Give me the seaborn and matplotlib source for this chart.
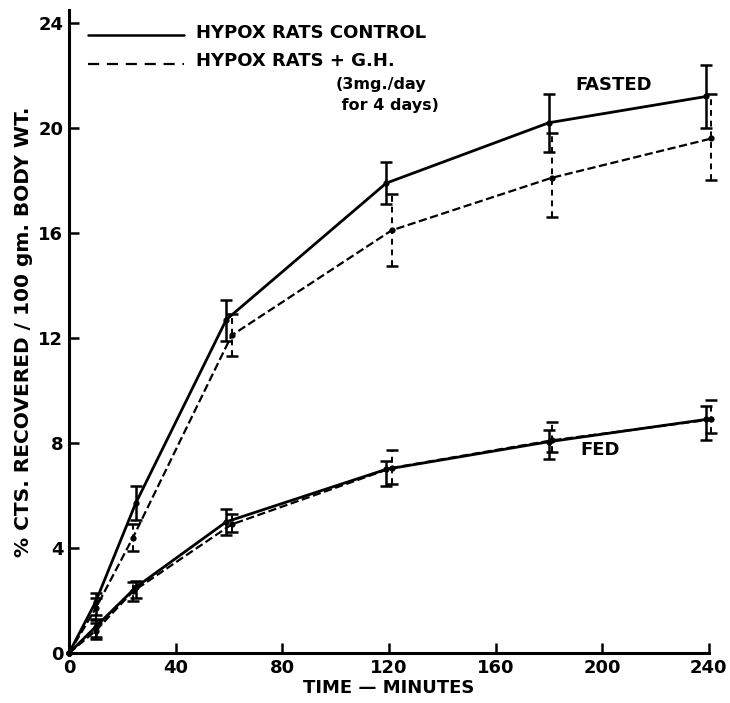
import numpy as np
import pandas as pd
import matplotlib
matplotlib.use('Agg')
import matplotlib.pyplot as plt
import seaborn as sns

# ── Data ──────────────────────────────────────────────────────
time_ctrl = [0, 10, 25, 59, 119, 180, 239]
time_gh = [0, 10, 24, 61, 121, 181, 241]

fasted_ctrl = [0, 1.95, 5.7, 12.7, 17.9, 20.2, 21.2]
fasted_ctrl_lo = [0, 1.45, 5.05, 11.9, 17.1, 19.1, 20.0]
fasted_ctrl_hi = [0, 2.3, 6.35, 13.45, 18.7, 21.3, 22.4]

fasted_gh = [0, 1.7, 4.4, 12.1, 16.1, 18.1, 19.6]
fasted_gh_lo = [0, 1.3, 3.9, 11.3, 14.75, 16.6, 18.0]
fasted_gh_hi = [0, 2.1, 4.9, 12.9, 17.5, 19.8, 21.3]

fed_ctrl = [0, 1.0, 2.5, 5.0, 7.0, 8.05, 8.9]
fed_ctrl_lo = [0, 0.6, 2.1, 4.5, 6.35, 7.4, 8.1]
fed_ctrl_hi = [0, 1.25, 2.75, 5.5, 7.3, 8.5, 9.4]

fed_gh = [0, 0.85, 2.35, 4.9, 7.05, 8.1, 8.9]
fed_gh_lo = [0, 0.55, 2.0, 4.6, 6.45, 7.65, 8.4]
fed_gh_hi = [0, 1.15, 2.7, 5.3, 7.75, 8.8, 9.65]

series = [
    ('fasted_ctrl', time_ctrl, fasted_ctrl, fasted_ctrl_lo, fasted_ctrl_hi, '-'),
    ('fasted_gh', time_gh, fasted_gh, fasted_gh_lo, fasted_gh_hi, '--'),
    ('fed_ctrl', time_ctrl, fed_ctrl, fed_ctrl_lo, fed_ctrl_hi, '-'),
    ('fed_gh', time_gh, fed_gh, fed_gh_lo, fed_gh_hi, '--'),
]

# ── Plot ──────────────────────────────────────────────────────
sns.set_style('ticks')
plt.rcParams['font.family'] = ['DejaVu Sans']

fig = plt.figure(figsize=(7.30, 7.03), dpi=100)
ax = fig.add_axes([0.0945, 0.071, 0.8765, 0.915])

for name, t, y, lo, hi, ls in series:
    df = pd.DataFrame({'t': t, 'y': y})
    sns.lineplot(data=df, x='t', y='y', ax=ax, color='black', linestyle=ls,
                 linewidth=2.0 if ls == '-' else 1.6,
                 dashes=False if ls == '-' else (5, 3.5), marker='o',
                 markersize=4.5, markeredgewidth=0, legend=False)
    yerr = [np.array(y) - np.array(lo), np.array(hi) - np.array(y)]
    eb = ax.errorbar(t[1:], y[1:], yerr=[yerr[0][1:], yerr[1][1:]], fmt='none',
                     ecolor='black', elinewidth=1.8 if ls == '-' else 1.4,
                     capsize=4.5, capthick=1.8)
    if ls == '--':
        eb[2][0].set_linestyle((0, (3, 2.5)))

for art in ax.lines + ax.collections:
    art.set_clip_on(False)

# legend drawn as in the original (lines + text at top left)
ax.plot([7, 43], [23.55, 23.55], color='black', linewidth=1.8, clip_on=False)
ax.plot([7, 43], [22.45, 22.45], color='black', linewidth=1.6,
        linestyle=(0, (5, 3.5)), clip_on=False)
txt = dict(fontsize=13, fontweight='bold', color='black', va='center')
ax.text(47.5, 23.6, 'HYPOX RATS CONTROL', **txt)
ax.text(47.5, 22.55, 'HYPOX RATS + G.H.', **txt)
ax.text(100, 21.25, '(3mg./day\n for 4 days)', fontsize=11.5, fontweight='bold',
        color='black', va='center', linespacing=1.45)
ax.text(190, 21.65, 'FASTED', **txt)
ax.text(192, 7.75, 'FED', **txt)

ax.set_xlim(0, 240)
ax.set_ylim(0, 24.5)
ax.set_xticks([0, 40, 80, 120, 160, 200, 240])
ax.set_yticks([0, 4, 8, 12, 16, 20, 24])
ax.tick_params(direction='in', length=7, width=1.8, labelsize=13, pad=4,
               colors='black')
for lab in ax.get_xticklabels() + ax.get_yticklabels():
    lab.set_fontweight('bold')
ax.set_xlabel('TIME — MINUTES', fontsize=13, fontweight='bold', labelpad=2,
              color='black')
ax.set_ylabel('% CTS. RECOVERED / 100 gm. BODY WT.', fontsize=14.5,
              fontweight='bold', labelpad=4, color='black')
sns.despine(ax=ax)
for s in ['left', 'bottom']:
    ax.spines[s].set_linewidth(2.2)
    ax.spines[s].set_color('black')

fig.savefig('out.png', dpi=100)
